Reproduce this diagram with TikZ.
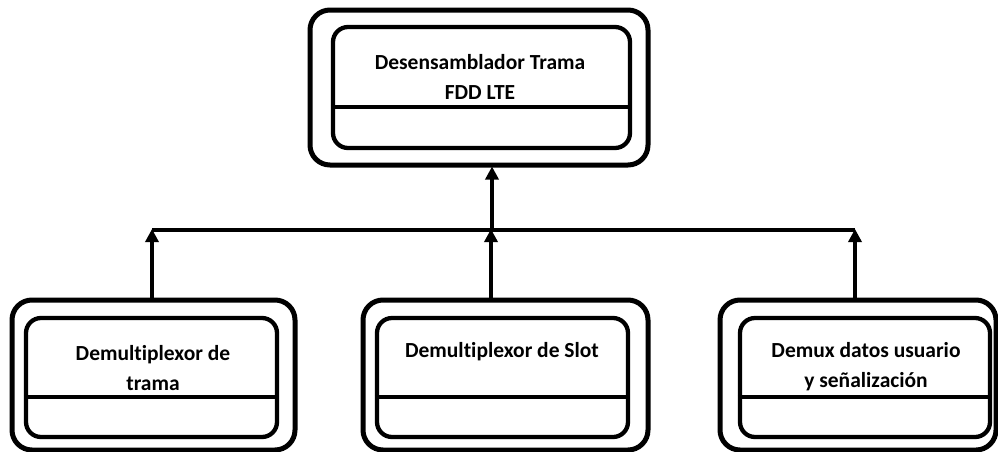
\documentclass[tikz,border=0pt]{standalone}
\usepackage{fontspec}
\setmainfont[Ligatures=NoCommon]{Carlito}
\usetikzlibrary{arrows.meta}
\tikzset{
  outerbox/.style={draw, line width=5pt, rounded corners=20pt, inner sep=0pt, anchor=center},
  innerbox/.style={draw, line width=4.3pt, rounded corners=15pt, inner sep=0pt, anchor=center},
  divider/.style={line width=4.3pt},
  label/.style={font=\fontsize{21.5}{30}\selectfont\bfseries, align=center, inner sep=0pt},
  link/.style={line width=4.3pt},
  flow/.style={line width=4.3pt, -{Triangle[length=13pt,width=13pt]}, shorten >=-1pt},
}
\begin{document}
\begin{tikzpicture}[x=1pt,y=-1pt]
\useasboundingbox (0,0) rectangle (998,451);
\clip (0,0) rectangle (998,451);

% top block
\node[outerbox, minimum width=338pt, minimum height=155pt] (topO) at (479,87.5) {};
\node[innerbox, minimum width=297pt, minimum height=121pt] (topI) at (481.5,87.5) {};
\draw[divider] (topI.west |- 0,107) -- (topI.east |- 0,107);
\node[label] (topT) at (480,77) {Desensamblador Trama\\FDD LTE};

% bottom blocks
\node[outerbox, minimum width=283pt, minimum height=150pt] (lO) at (153.5,375) {};
\node[innerbox, minimum width=251pt, minimum height=119pt] (lI) at (151.5,377.5) {};
\draw[divider] (lI.west |- 0,397) -- (lI.east |- 0,397);
\node[label] (lT) at (153,368) {Demultiplexor de\\trama};

\node[outerbox, minimum width=285pt, minimum height=150pt] (mO) at (505.5,375) {};
\node[innerbox, minimum width=251pt, minimum height=119pt] (mI) at (502.5,377.5) {};
\draw[divider] (mI.west |- 0,397) -- (mI.east |- 0,397);
\node[label] (mT) at (502,352) {Demultiplexor de Slot};

\node[outerbox, minimum width=276pt, minimum height=150pt] (rO) at (858,375) {};
\node[innerbox, minimum width=250pt, minimum height=119pt] (rI) at (865,377.5) {};
\draw[divider] (rI.west |- 0,397) -- (rI.east |- 0,397);
\node[label] (rT) at (866,367) {Demux datos usuario\\y señalización};

% bus and arrows
\coordinate (busL) at (152,230);
\coordinate (busM) at (491,230);
\coordinate (busR) at (855,230);
\coordinate (busTop) at (492,230);
\draw[link] (busL) -- (busR);
\draw[flow] (busTop) -- (busTop |- topO.south);
\draw[flow] (lO.north -| busL) -- (busL);
\draw[flow] (mO.north -| busM) -- (busM);
\draw[flow] (rO.north -| busR) -- (busR);
\end{tikzpicture}
\end{document}
